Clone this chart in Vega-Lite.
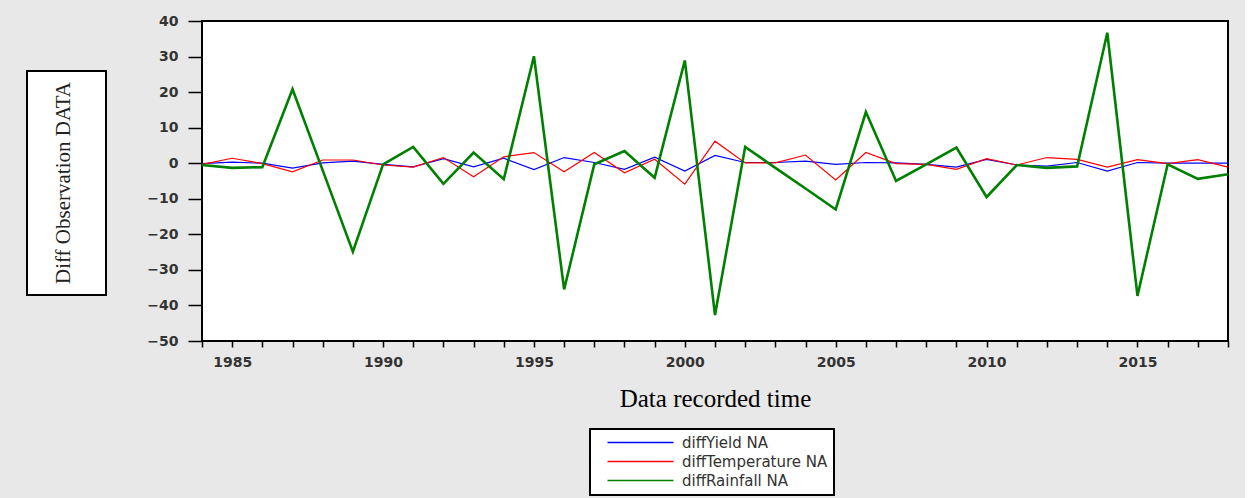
{
  "$schema": "https://vega.github.io/schema/vega-lite/v6.json",
  "background": "#e8e8e8",
  "padding": {"left": 26, "top": 13, "right": 10, "bottom": 5},
  "config": {"view": {"stroke": null}, "legend": {"strokeWidth": 2}},
  "spacing": 38,
  "hconcat": [
    {
      "spacing": 0,
      "vconcat": [
        {
          "width": 79,
          "height": 49,
          "data": {"values": [{}]},
          "mark": {"type": "text", "text": ""}
        },
        {
          "width": 79,
          "height": 224,
          "view": {"stroke": "black", "strokeWidth": 2, "fill": "white"},
          "data": {"values": [{"t": "Diff Observation DATA"}]},
          "mark": {"type": "text", "angle": 270, "font": "Liberation Serif", "fontSize": 21, "color": "#222", "baseline": "middle", "align": "center", "dx": 0, "dy": -3},
          "encoding": {"text": {"field": "t"}}
        }
      ]
    },
    {
      "width": 1026,
      "height": 320,
      "view": {"stroke": "black", "strokeWidth": 2, "fill": "white"},
      "data": {
        "values": [
          {"year": 1984, "diffYield": -0.1, "diffTemperature": -0.3, "diffRainfall": -0.5},
          {"year": 1985, "diffYield": 0.3, "diffTemperature": 1.4, "diffRainfall": -1.3},
          {"year": 1986, "diffYield": 0.0, "diffTemperature": -0.1, "diffRainfall": -1.1},
          {"year": 1987, "diffYield": -1.4, "diffTemperature": -2.4, "diffRainfall": 20.8},
          {"year": 1988, "diffYield": 0.1, "diffTemperature": 0.9, "diffRainfall": -2.0},
          {"year": 1989, "diffYield": 0.6, "diffTemperature": 0.9, "diffRainfall": -24.9},
          {"year": 1990, "diffYield": -0.3, "diffTemperature": -0.5, "diffRainfall": -0.3},
          {"year": 1991, "diffYield": -1.0, "diffTemperature": -1.1, "diffRainfall": 4.6},
          {"year": 1992, "diffYield": 1.3, "diffTemperature": 1.6, "diffRainfall": -5.8},
          {"year": 1993, "diffYield": -1.0, "diffTemperature": -3.8, "diffRainfall": 3.0},
          {"year": 1994, "diffYield": 1.4, "diffTemperature": 1.8, "diffRainfall": -4.5},
          {"year": 1995, "diffYield": -1.8, "diffTemperature": 3.0, "diffRainfall": 30.1},
          {"year": 1996, "diffYield": 1.6, "diffTemperature": -2.4, "diffRainfall": -35.5},
          {"year": 1997, "diffYield": 0.2, "diffTemperature": 3.0, "diffRainfall": -0.3},
          {"year": 1998, "diffYield": -1.7, "diffTemperature": -2.7, "diffRainfall": 3.4},
          {"year": 1999, "diffYield": 1.7, "diffTemperature": 1.1, "diffRainfall": -4.1},
          {"year": 2000, "diffYield": -2.2, "diffTemperature": -5.9, "diffRainfall": 28.9},
          {"year": 2001, "diffYield": 2.2, "diffTemperature": 6.2, "diffRainfall": -42.7},
          {"year": 2002, "diffYield": 0.2, "diffTemperature": 0.1, "diffRainfall": 4.6},
          {"year": 2003, "diffYield": 0.2, "diffTemperature": 0.1, "diffRainfall": -1.3},
          {"year": 2004, "diffYield": 0.6, "diffTemperature": 2.3, "diffRainfall": -7.1},
          {"year": 2005, "diffYield": -0.3, "diffTemperature": -4.7, "diffRainfall": -13.0},
          {"year": 2006, "diffYield": 0.2, "diffTemperature": 3.0, "diffRainfall": 14.4},
          {"year": 2007, "diffYield": 0.1, "diffTemperature": -0.1, "diffRainfall": -5.0},
          {"year": 2008, "diffYield": -0.3, "diffTemperature": -0.3, "diffRainfall": -0.3},
          {"year": 2009, "diffYield": -1.1, "diffTemperature": -1.7, "diffRainfall": 4.4},
          {"year": 2010, "diffYield": 1.1, "diffTemperature": 1.3, "diffRainfall": -9.5},
          {"year": 2011, "diffYield": -0.5, "diffTemperature": -0.5, "diffRainfall": -0.5},
          {"year": 2012, "diffYield": -0.8, "diffTemperature": 1.6, "diffRainfall": -1.3},
          {"year": 2013, "diffYield": 0.2, "diffTemperature": 1.1, "diffRainfall": -0.9},
          {"year": 2014, "diffYield": -2.2, "diffTemperature": -1.1, "diffRainfall": 36.7},
          {"year": 2015, "diffYield": 0.2, "diffTemperature": 1.0, "diffRainfall": -37.3},
          {"year": 2016, "diffYield": 0.0, "diffTemperature": -0.1, "diffRainfall": -0.3},
          {"year": 2017, "diffYield": 0.0, "diffTemperature": 1.0, "diffRainfall": -4.4},
          {"year": 2018, "diffYield": 0.0, "diffTemperature": -1.1, "diffRainfall": -3.1}
        ]
      },
      "transform": [
        {"fold": ["diffYield", "diffTemperature", "diffRainfall"], "as": ["series", "value"]}
      ],
      "encoding": {
        "x": {
          "field": "year",
          "type": "quantitative",
          "scale": {"domain": [1984, 2018], "nice": false, "zero": false},
          "axis": {
            "values": [1984, 1985, 1986, 1987, 1988, 1989, 1990, 1991, 1992, 1993, 1994, 1995, 1996, 1997, 1998, 1999, 2000, 2001, 2002, 2003, 2004, 2005, 2006, 2007, 2008, 2009, 2010, 2011, 2012, 2013, 2014, 2015, 2016, 2017, 2018],
            "format": "d",
            "labelExpr": "datum.value % 5 === 0 ? datum.label : ''",
            "labelFlush": false,
            "labelOverlap": false,
            "tickSize": 6,
            "tickColor": "black",
            "tickWidth": 1.5,
            "domain": false,
            "grid": false,
            "labelFont": "DejaVu Sans",
            "labelFontSize": 14,
            "labelFontWeight": "bold",
            "labelColor": "#333",
            "labelPadding": 8,
            "title": "Data recorded time",
            "titleFont": "Liberation Serif",
            "titleFontSize": 25,
            "titleFontWeight": "normal",
            "titleColor": "black",
            "titlePadding": 17
          }
        },
        "y": {
          "field": "value",
          "type": "quantitative",
          "scale": {"domain": [-50, 40], "nice": false},
          "axis": {
            "values": [-50, -40, -30, -20, -10, 0, 10, 20, 30, 40],
            "tickSize": 14,
            "tickColor": "black",
            "tickWidth": 1.5,
            "domain": false,
            "grid": false,
            "labelFont": "DejaVu Sans",
            "labelFontSize": 14,
            "labelFontWeight": "bold",
            "labelColor": "#333",
            "labelPadding": 10,
            "labelFlush": false,
            "labelOverlap": false,
            "title": null
          }
        },
        "color": {
          "field": "series",
          "type": "nominal",
          "scale": {"domain": ["diffYield", "diffTemperature", "diffRainfall"], "range": ["#0000ff", "#ff0000", "#008000"]},
          "legend": {
            "orient": "none",
            "legendX": 563,
            "legendY": 408,
            "title": null,
            "direction": "vertical",
            "symbolType": "M-5.5,0H5.5",
            "symbolSize": 144,
            "symbolStrokeWidth": 1.5,
            "labelFont": "DejaVu Sans",
            "labelFontSize": 15,
            "labelColor": "#333",
            "labelExpr": "datum.label + ' NA'",
            "strokeColor": "black",
            "fillColor": "white",
            "padding": 6,
            "rowPadding": 3,
            "symbolOffset": 37,
            "labelOffset": 34
          }
        }
      },
      "layer": [
        {
          "transform": [{"filter": "datum.series !== 'diffRainfall'"}],
          "mark": {"type": "line", "strokeWidth": 1.2}
        },
        {
          "transform": [{"filter": "datum.series === 'diffRainfall'"}],
          "mark": {"type": "line", "strokeWidth": 2.6}
        }
      ]
    }
  ]
}
